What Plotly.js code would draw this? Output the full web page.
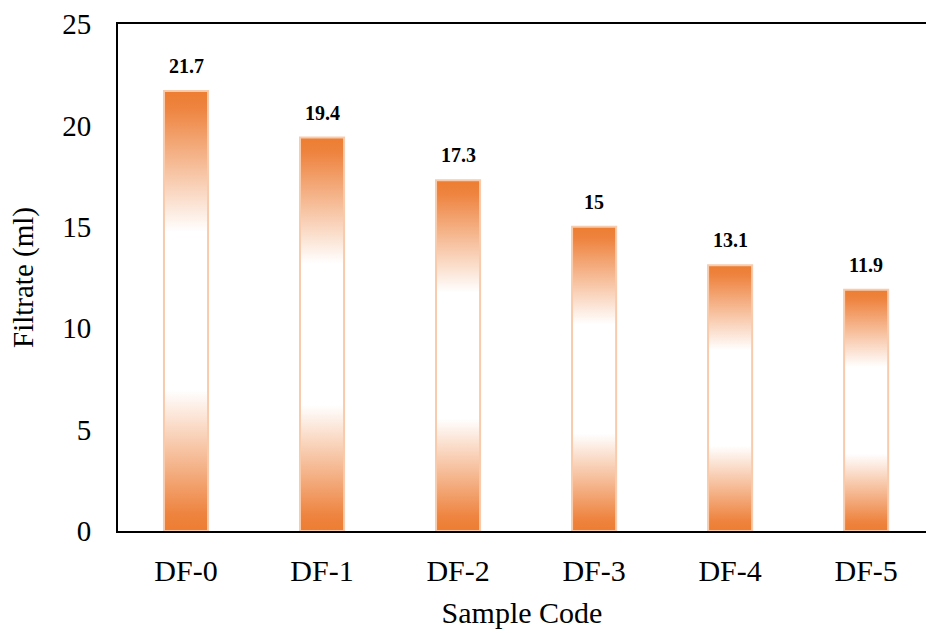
<!DOCTYPE html>
<html>
<head>
<meta charset="utf-8">
<script src="https://cdn.plot.ly/plotly-3.0.1.min.js"></script>
<style>html,body{margin:0;padding:0;background:#fff;}#chart{width:926px;height:633px;}</style>
</head>
<body>
<div id="chart"></div>
<script>
const categories = ["DF-0", "DF-1", "DF-2", "DF-3", "DF-4", "DF-5"];
const filtrate = [21.7, 19.4, 17.3, 15, 13.1, 11.9];
const yTicks = [0, 5, 10, 15, 20, 25];

const barHalf = 0.162;
const grad = [[0, '#ED7D31'], [0.04, '#EE8440'], [0.32, '#FFFFFF'], [0.68, '#FFFFFF'], [0.96, '#EE8440'], [1, '#ED7D31']];

const traces = [];
categories.forEach((c, i) => {
  const v = filtrate[i];
  traces.push({
    type: 'scatter',
    mode: 'lines',
    x: [i - barHalf, i - barHalf, i + barHalf, i + barHalf, i - barHalf],
    y: [0, v, v, 0, 0],
    fill: 'toself',
    fillgradient: {type: 'vertical', colorscale: grad, start: 0, stop: v},
    line: {color: '#F8CBAD', width: 2},
    hoverinfo: 'skip',
    showlegend: false
  });
});

const annotations = filtrate.map((v, i) => ({
  x: i, y: v, xref: 'x', yref: 'y',
  text: String(v), showarrow: false,
  yanchor: 'bottom', yshift: 12,
  font: {family: 'Liberation Serif', size: 20, color: '#000', weight: 'bold'}
}));

const layout = {
  width: 926, height: 633,
  margin: {l: 118, r: 0, t: 24, b: 102},
  paper_bgcolor: '#fff', plot_bgcolor: '#fff',
  font: {family: 'Liberation Serif', color: '#000'},
  showlegend: false,
  annotations: annotations,
  xaxis: {
    range: [-0.5, 5.44],
    tickvals: categories.map((c, i) => i),
    ticktext: categories,
    tickfont: {size: 30, family: 'Liberation Serif'},
    showgrid: false, zeroline: false,
    showline: true, linecolor: '#000', linewidth: 2, mirror: true,
    ticks: '', ticklabelstandoff: 12,
    title: {text: 'Sample Code', font: {size: 30, family: 'Liberation Serif'}, standoff: 16}
  },
  yaxis: {
    range: [0, 25],
    tickvals: yTicks,
    tickfont: {size: 29, family: 'Liberation Serif'},
    showgrid: false, zeroline: false,
    showline: true, linecolor: '#000', linewidth: 2,
    ticks: '', ticklabelstandoff: 19,
    title: {text: 'Filtrate (ml)', font: {size: 29, family: 'Liberation Serif'}, standoff: 20}
  }
};

Plotly.newPlot('chart', traces, layout, {displayModeBar: false, staticPlot: true});
</script>
</body>
</html>
